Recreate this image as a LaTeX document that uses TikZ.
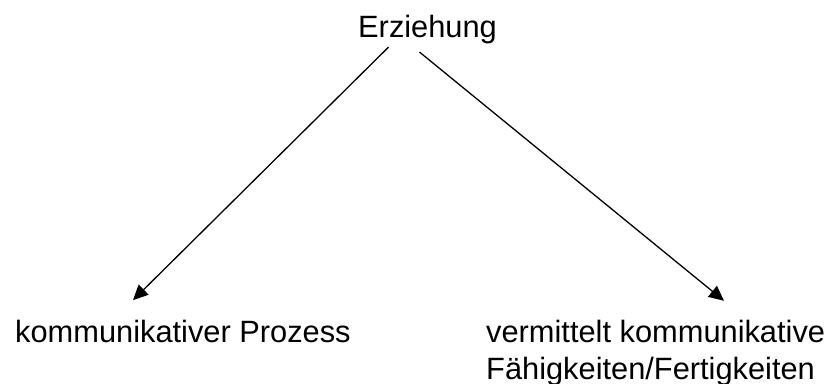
\documentclass[tikz,border=0pt]{standalone}
\usepackage{fontspec}
\setmainfont{Liberation Sans}
\usepackage{tikz}
\usetikzlibrary{arrows.meta, calc, positioning}

\begin{document}
\begin{tikzpicture}[x=1pt, y=1pt,
    begriff/.style={inner sep=0pt, font=\fontsize{30.8}{37}\selectfont, anchor=base west},
    pfeil/.style={-{Triangle[length=15pt, width=14pt]}, line width=1.3pt}]
    \useasboundingbox (0,0) rectangle (840,-383);
    
    % Oberbegriff
    \node[begriff] (erz) at (358,-37) {Erziehung};
    
    % zwei Seiten darunter
    \node[begriff] (proz) at (15,-342.7) {kommunikativer Prozess};
    \node[begriff, align=left] (faeh) at (486,-379.3) {vermittelt kommunikative\\Fähigkeiten/Fertigkeiten};
    
    \draw[pfeil] ($(erz.south)+(-39,-3.5)$) -- ($(proz.north west)+(118,20)$);
    \draw[pfeil] ($(erz.south)+(-8,-8.5)$) -- ($(faeh.north west)+(238,19)$);
\end{tikzpicture}
\end{document}
